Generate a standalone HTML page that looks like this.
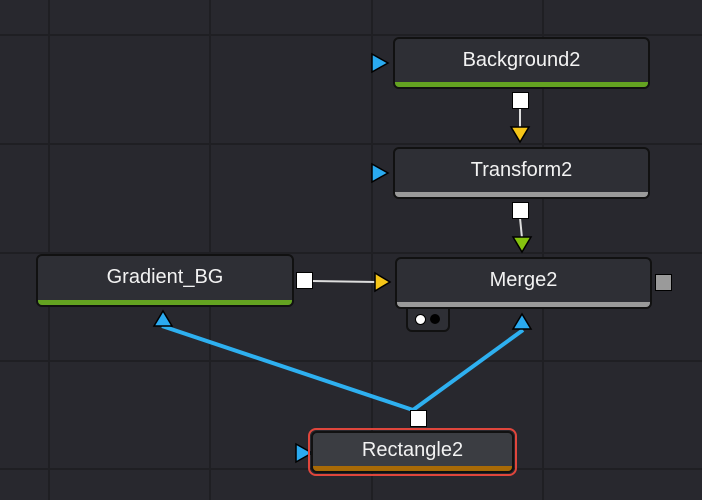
<!DOCTYPE html>
<html><head><style>
html,body{margin:0;padding:0;width:702px;height:500px;overflow:hidden;background:#28282e;font-family:"Liberation Sans",sans-serif}
.g{position:absolute;background:#1f1f23}
.n{position:absolute;box-sizing:border-box;background:#2e2f35;border:2px solid #111;border-radius:6px;color:#f2f2f2;font-size:20px;text-align:center;overflow:hidden}
.n span{position:absolute;left:0;right:0;top:10px}
.n .bar{position:absolute;left:0;right:0;bottom:0;height:5px}
.sq{position:absolute;background:#fff;border:1.5px solid #000;box-sizing:border-box;width:17px;height:17px}
</style></head><body>
<div class="g" style="left:48px;top:0;width:2px;height:500px"></div>
<div class="g" style="left:209px;top:0;width:2px;height:500px"></div>
<div class="g" style="left:371px;top:0;width:2px;height:500px"></div>
<div class="g" style="left:542px;top:0;width:2px;height:500px"></div>
<div class="g" style="left:0;top:34px;width:702px;height:2px"></div>
<div class="g" style="left:0;top:143px;width:702px;height:2px"></div>
<div class="g" style="left:0;top:252px;width:702px;height:2px"></div>
<div class="g" style="left:0;top:360px;width:702px;height:2px"></div>
<div class="g" style="left:0;top:468px;width:702px;height:2px"></div>

<svg width="702" height="500" style="position:absolute;left:0;top:0">
<line x1="520" y1="108" x2="520" y2="128" stroke="#ddd" stroke-width="2"/>
<line x1="520" y1="218" x2="522" y2="238" stroke="#ddd" stroke-width="2"/>
<line x1="312" y1="281" x2="376" y2="282" stroke="#ddd" stroke-width="2"/>
<line x1="162" y1="326" x2="413" y2="410" stroke="#2eb0f0" stroke-width="4"/>
<line x1="523" y1="330" x2="413" y2="410" stroke="#2eb0f0" stroke-width="4"/>
<polygon points="372,54 372,72 388,63" fill="#2aaaf0" stroke="#000" stroke-width="1.5"/>
<polygon points="372,164 372,182 388,173" fill="#2aaaf0" stroke="#000" stroke-width="1.5"/>
<polygon points="296,444 296,462 312,453" fill="#2aaaf0" stroke="#000" stroke-width="1.5"/>
<polygon points="511,127 529,127 520,142" fill="#f5c518" stroke="#000" stroke-width="1.5"/>
<polygon points="513,237 531,237 522,252" fill="#86c30f" stroke="#000" stroke-width="1.5"/>
<polygon points="375,273 375,291 390,282" fill="#f5c518" stroke="#000" stroke-width="1.5"/>
<polygon points="154,326 172,326 163,311" fill="#2aaaf0" stroke="#000" stroke-width="1.5"/>
<polygon points="513,329 531,329 522,314" fill="#2aaaf0" stroke="#000" stroke-width="1.5"/>
</svg>

<div class="n" style="left:393px;top:37px;width:257px;height:52px"><span>Background2</span><div class="bar" style="background:#64a321"></div></div>
<div class="n" style="left:393px;top:147px;width:257px;height:52px"><span>Transform2</span><div class="bar" style="background:#9a9a9a"></div></div>
<div style="position:absolute;left:406px;top:305px;width:44px;height:27px;background:#2e2f35;border:2px solid #111;border-radius:0 0 6px 6px;box-sizing:border-box"></div>
<div style="position:absolute;left:415px;top:314px;width:9px;height:9px;border-radius:50%;background:#fff;border:1px solid #000"></div>
<div style="position:absolute;left:430px;top:314px;width:10px;height:10px;border-radius:50%;background:#000"></div>
<div class="n" style="left:395px;top:257px;width:257px;height:52px"><span>Merge2</span><div class="bar" style="background:#9a9a9a"></div></div>
<div class="n" style="left:36px;top:254px;width:258px;height:53px"><span>Gradient_BG</span><div class="bar" style="background:#64a321"></div></div>
<div style="position:absolute;left:308px;top:428px;width:209px;height:48px;border:2px solid #e0463c;border-radius:8px;box-sizing:border-box"></div>
<div class="n" style="left:311px;top:431px;width:203px;height:42px;background:#3b3d42"><span style="top:6px">Rectangle2</span><div class="bar" style="background:#a86a06"></div></div>

<div class="sq" style="left:512px;top:92px"></div>
<div class="sq" style="left:512px;top:202px"></div>
<div class="sq" style="left:296px;top:272px"></div>
<div class="sq" style="left:410px;top:410px"></div>
<div class="sq" style="left:655px;top:274px;background:#9a9a9a"></div>
</body></html>
